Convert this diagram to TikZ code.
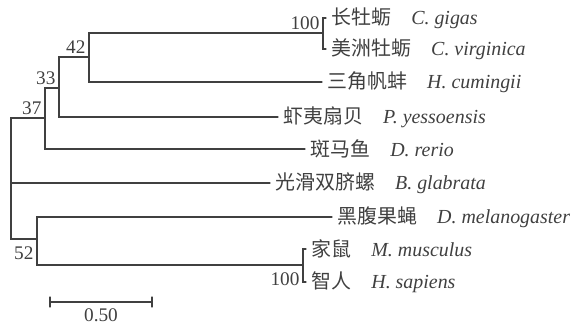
\documentclass[tikz,border=0pt]{standalone}
\usepackage{tkz-euclide}
\usepackage{tikz}
\usepackage{fontspec}
\setmainfont{Liberation Serif}
\newfontfamily\cjk{Noto Sans CJK SC}
\definecolor{treegray}{gray}{0.25}
\tikzset{
  branch/.style={draw=treegray, line width=0.85pt, line join=miter},
  taxon/.style={anchor=west, inner xsep=4pt, inner ysep=0pt, text=treegray,
    font=\fontsize{15}{18}\selectfont},
  boot/.style={inner sep=2.5pt, text=treegray, font=\fontsize{14.5}{17}\selectfont}
}

\begin{document}
\begin{tikzpicture}[scale=0.026458]
    \tkzDefPoints{0/0/O,571/-329/E}
    \useasboundingbox (O) rectangle (E);
    % root, B. glabrata
    \tkzDefPoints{45/-118/Ra,11/-118/R,11/-239/S,37/-239/Sa,11/-183/Ga,270/-183/Gb}
    % clade 37, 33, 42
    \tkzDefPoints{59/-88/Pa,45/-88/Pb,45/-149/Pc,305/-149/Pd}
    \tkzDefPoints{89/-57/Qa,59/-57/Qb,59/-117/Qc,278/-117/Qd}
    \tkzDefPoints{323/-33/Ta,89/-33/Tb,89/-82/Tc,322/-82/Td}
    \tkzDefPoints{326/-18/Ua,323/-18/Ub,323/-49/Uc,326/-49/Ud} %OSTRICHE
    % clade 52
    \tkzDefPoints{332/-217/Va,37/-217/Vb,37/-265/Vc,303/-265/Vd}
    \tkzDefPoints{306/-249/Wa,303/-249/Wb,303/-282/Wc,306/-282/Wd}
    % scale bar
    \tkzDefPoints{50/-302/Ka,152/-302/Kb,50/-297/Kc,50/-307/Kd,152/-297/Ke,152/-307/Kf,101/-302/Km}
    \tkzDrawPolySeg[branch](Ra,R,S,Sa)
    \tkzDrawPolySeg[branch](Pa,Pb,Pc,Pd)
    \tkzDrawPolySeg[branch](Qa,Qb,Qc,Qd)
    \tkzDrawPolySeg[branch](Ta,Tb,Tc,Td)
    \tkzDrawPolySeg[branch](Ua,Ub,Uc,Ud)
    \tkzDrawPolySeg[branch](Va,Vb,Vc,Vd)
    \tkzDrawPolySeg[branch](Wa,Wb,Wc,Wd)
    \tkzDrawSegments[branch](Ga,Gb Ka,Kb Kc,Kd Ke,Kf)
    \node[taxon] (gigas) at (Ua) {{\cjk 长牡蛎}\quad\textit{C. gigas}};
    \node[taxon] (virginica) at (Ud) {{\cjk 美洲牡蛎}\quad\textit{C. virginica}};
    \node[taxon] (cumingii) at (Td) {{\cjk 三角帆蚌}\quad\textit{H. cumingii}};
    \node[taxon] (yessoensis) at (Qd) {{\cjk 虾夷扇贝}\quad\textit{P. yessoensis}};
    \node[taxon] (rerio) at (Pd) {{\cjk 斑马鱼}\quad\textit{D. rerio}};
    \node[taxon] (glabrata) at (Gb) {{\cjk 光滑双脐螺}\quad\textit{B. glabrata}};
    \node[taxon] (melanogaster) at (Va) {{\cjk 黑腹果蝇}\quad\textit{D. melanogaster}};
    \node[taxon] (musculus) at (Wa) {{\cjk 家鼠}\quad\textit{M. musculus}};
    \node[taxon] (sapiens) at (Wd) {{\cjk 智人}\quad\textit{H. sapiens}};
    \node[boot, anchor=south east] (bootA) at (Ta) {100};
    \node[boot, anchor=south east] (bootB) at (Qa) {42};
    \node[boot, anchor=south east] (bootC) at (Pa) {33};
    \node[boot, anchor=south east] (bootD) at (Ra) {37};
    \node[boot, anchor=north east, yshift=-3pt] (bootE) at (Sa) {52};
    \node[boot, anchor=north east, yshift=-3pt] (bootF) at (Vd) {100};
    \node[boot, anchor=north, yshift=-2pt] (scale) at (Km) {0.50};
\end{tikzpicture}
\end{document}
